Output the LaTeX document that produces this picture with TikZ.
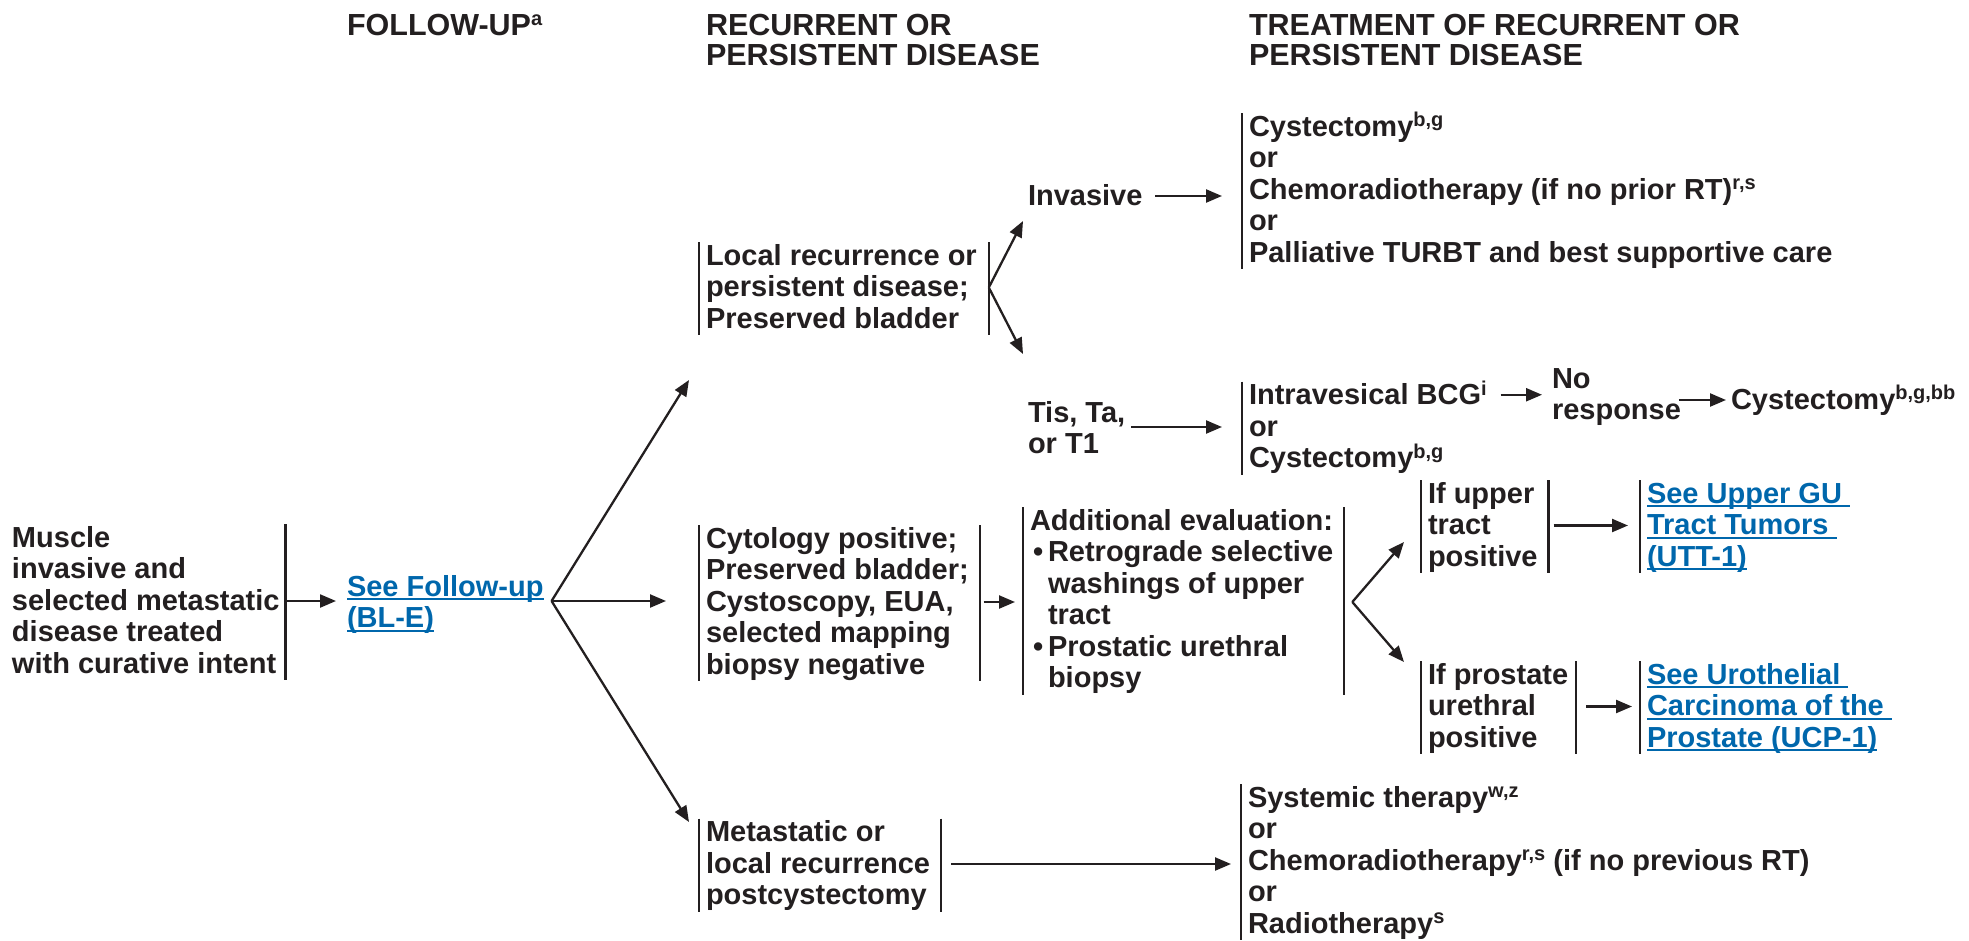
\documentclass[tikz,border=0pt]{standalone}
\usepackage{fontspec}
\setmainfont{Liberation Sans}
\usetikzlibrary{arrows.meta}
\definecolor{ink}{RGB}{35,31,32}
\definecolor{lnk}{RGB}{0,103,172}
\newcommand\bodyf{\fontsize{29pt}{31.5pt}\selectfont\bfseries\lineskiplimit=-100pt\relax}
\newcommand\headf{\fontsize{30.5pt}{30.5pt}\selectfont\bfseries\lineskiplimit=-100pt\relax}
\newcommand\fs{\rule{0pt}{25pt}}
\newcommand\ls{\rule[-7pt]{0pt}{7pt}}
\newcommand\sups[1]{\raisebox{9.5pt}{\fontsize{20pt}{20pt}\selectfont #1}}
\newcommand\lk[1]{\setbox0=\hbox{#1}\rlap{\rule[-4pt]{\wd0}{2pt}}\box0}
\newcommand\ind{\hspace*{18pt}}
\newcommand\bul{\hspace*{3pt}\makebox[15pt][l]{•}}
\begin{document}
\begin{tikzpicture}[x=1pt,y=-1pt,
  every node/.style={inner sep=0pt,outer sep=0pt},
  txt/.style={anchor=north west,align=left,font=\bodyf,text=ink},
  lnktxt/.style={anchor=north west,align=left,font=\bodyf,text=lnk},
  hd/.style={anchor=north west,align=left,font=\headf,text=ink},
  bar/.style={draw=ink,line width=2.3pt,-},
  lb/.style={append after command={([xshift=-7pt,yshift=-2pt]\tikzlastnode.north west) edge[bar] ([xshift=-7pt]\tikzlastnode.south west)}},
  rb/.style={append after command={([xshift=#1,yshift=-2pt]\tikzlastnode.north east) edge[bar] ([xshift=#1]\tikzlastnode.south east)}},
  rb/.default=11pt,
  arr/.style={draw=ink,line width=2.3pt,-{Triangle[length=16pt,width=13pt]}}]
\useasboundingbox (0,0) rectangle (1969,940);

% headers
\node[hd] (hF) at (347,10) {\fs FOLLOW-UP\sups{a}};
\node[hd] (hR) at (706,10) {\fs RECURRENT OR\\PERSISTENT DISEASE};
\node[hd] (hT) at (1249,10) {\fs TREATMENT OF RECURRENT OR\\PERSISTENT DISEASE};

% column 1-2
\node[txt,rb=6pt] (n0) at (12,522) {\fs Muscle\\invasive and\\selected metastatic\\disease treated\\with curative intent\ls};
\node[lnktxt] (lk0) at (347,571) {\fs\lk{See Follow-up}\\\lk{(BL-E)}\ls};

% column 3
\node[txt,lb,rb=12pt] (nL) at (706,240) {\fs Local recurrence or\\persistent disease;\\Preserved bladder\ls};
\node[txt,lb,rb] (nCyt) at (706,523) {\fs Cytology positive;\\Preserved bladder;\\Cystoscopy, EUA,\\selected mapping\\biopsy negative\ls};
\node[txt,lb,rb] (nMet) at (706,816.5) {\fs Metastatic or\\local recurrence\\postcystectomy\ls};

% upper branch
\node[txt] (nInv) at (1028,180) {\fs Invasive\ls};
\node[txt] (nTis) at (1028,397) {\fs Tis, Ta,\\or T1\ls};
\node[txt,lb] (nCys1) at (1249,111) {\fs Cystectomy\sups{b,g}\\or\\Chemoradiotherapy (if no prior RT)\sups{r,s}\\or\\Palliative TURBT and best supportive care\ls};
\node[txt,lb] (nBCG) at (1249,379.5) {\fs Intravesical BCG\sups{i}\\or\\Cystectomy\sups{b,g}\ls};
\node[txt] (nNo) at (1552,363) {\fs No\\response\ls};
\node[txt] (nCys3) at (1731,384) {\fs Cystectomy\sups{b,g,bb}\ls};

% middle branch
\node[txt,lb,rb] (nAdd) at (1030,505) {\fs Additional evaluation:\\\bul Retrograde selective\\\ind washings of upper\\\ind tract\\\bul Prostatic urethral\\\ind biopsy\ls};
\node[txt,lb,rb] (nUp) at (1428,478) {\fs If upper\\tract\\positive\ls};
\node[lnktxt,lb] (lkUp) at (1647,478) {\fs\lk{See Upper GU\ }\\\lk{Tract Tumors\ }\\\lk{(UTT-1)}\ls};
\node[txt,lb,rb=8pt] (nPro) at (1428,659) {\fs If prostate\\urethral\\positive\ls};
\node[lnktxt,lb] (lkPro) at (1647,659) {\fs\lk{See Urothelial\ }\\\lk{Carcinoma of the\ }\\\lk{Prostate (UCP-1)}\ls};

% lower branch
\node[txt,lb] (nSys) at (1248,782) {\fs Systemic therapy\sups{w,z}\\or\\Chemoradiotherapy\sups{r,s} (if no previous RT)\\or\\Radiotherapy\sups{s}\ls};

% connectors
\draw[arr] ([xshift=6pt]n0.east) -- ([xshift=-11pt]lk0.west |- n0.east);
\coordinate (s1) at ([xshift=8pt]lk0.east |- n0.east);
\coordinate (tL) at (689,380);
\coordinate (tM) at (689,822);
\draw[arr] (s1) -- (tL);
\draw[arr] (s1) -- ([xshift=-40pt]nCyt.west |- s1);
\draw[arr] (s1) -- (tM);

\coordinate (s2) at ([xshift=12pt]nL.east);
\coordinate (tI) at (1023,221);
\coordinate (tT) at (1023,354);
\draw[arr] (s2) -- (tI);
\draw[arr] (s2) -- (tT);
\draw[arr] ([xshift=13pt]nInv.east) -- ([xshift=-27pt]nCys1.west |- nInv.east);
\draw[arr] ([xshift=6pt]nTis.east |- nBCG.west) -- ([xshift=-27pt]nBCG.west);
\draw[arr] ([xshift=14pt]nBCG.east |- nNo.west) -- ([xshift=-10pt]nNo.west);
\draw[arr] ([xshift=-2pt]nNo.east |- nCys3.west) -- ([xshift=-5pt]nCys3.west);

\draw[arr] ([xshift=15pt]nCyt.east) -- ([xshift=-15pt]nAdd.west |- nCyt.east);
\coordinate (s3) at ([xshift=19pt]nAdd.east |- nCyt.east);
\coordinate (tU) at (1404,542);
\coordinate (tP) at (1404,662);
\draw[arr] (s3) -- (tU);
\draw[arr] (s3) -- (tP);
\draw[arr] ([xshift=16pt]nUp.east) -- ([xshift=-19pt]lkUp.west |- nUp.east);
\draw[arr] ([xshift=18pt]nPro.east) -- ([xshift=-15pt]lkPro.west |- nPro.east);

\draw[arr] ([xshift=21pt]nMet.east) -- ([xshift=-17pt]nSys.west |- nMet.east);
\end{tikzpicture}
\end{document}
